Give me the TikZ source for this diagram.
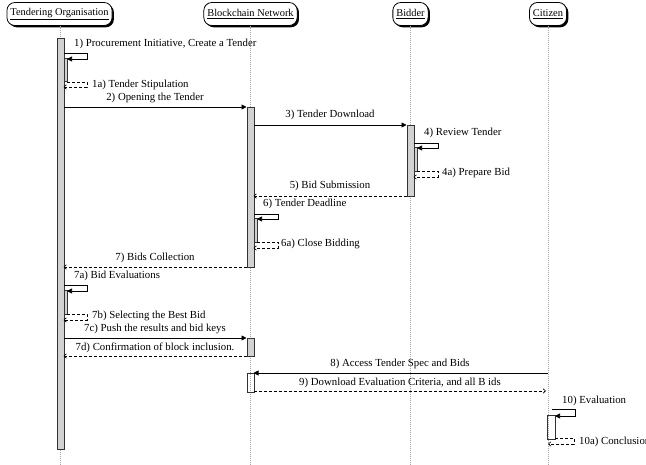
\documentclass[tikz,border=0pt]{standalone}
\usepackage{fontspec}
\setmainfont{Liberation Serif}
\usetikzlibrary{arrows.meta,shadows}
\begin{document}
\begin{tikzpicture}[x=1pt,y=-1pt,
  every node/.style={font=\fontsize{10.8}{13}\selectfont},
  actor/.style={draw=black,line width=0.8pt,rounded corners=8pt,fill=white,minimum height=23pt,inner xsep=3.5pt,
    font=\fontsize{10.4}{12}\selectfont,
    drop shadow={shadow xshift=1.8pt,shadow yshift=-1.8pt,fill=black,opacity=1}},
  life/.style={draw=gray!70,line width=0.5pt,dash pattern=on 1pt off 1pt},
  bar/.style={draw=black!80,line width=0.6pt,fill=gray!35,inner sep=0pt,anchor=north west},
  wbar/.style={draw=black!80,line width=0.6pt,fill=none,inner sep=0pt,anchor=north west},
  msg/.style={draw=black,line width=0.7pt,-{Triangle[length=5pt,width=5pt]}},
  ret/.style={draw=black,line width=0.6pt,dash pattern=on 3pt off 2pt,-{Straight Barb[length=2.5pt,width=4.5pt]}},
  lbl/.style={inner sep=0pt},
  lblw/.style={inner sep=0pt,anchor=west}]
\useasboundingbox (0,0) rectangle (646,465);
% actors
\node[actor] (to) at (59.5,14) {\underline{Tendering Organisation}};
\node[actor] (bn) at (250.5,14) {\underline{Blockchain Network}};
\node[actor] (bd) at (410.5,14) {\underline{Bidder}};
\node[actor] (ci) at (548,14) {\underline{Citizen}};
\coordinate (toE) at (60,465);
\coordinate (bnE) at (250.5,465);
\coordinate (bdE) at (410.5,465);
\coordinate (ciE) at (548,465);
\draw[life] (to.south -| toE) -- (toE);
\draw[life] (bn.south) -- (bnE);
\draw[life] (bd.south) -- (bdE);
\draw[life] (ci.south) -- (ciE);
% activation bars
\node[bar,minimum width=7pt,minimum height=411pt] (b1) at (56.5,38) {};
\node[bar,minimum width=7pt,minimum height=160pt] (b2) at (246.5,107) {};
\node[bar,minimum width=7pt,minimum height=71pt] (b3) at (406.5,125) {};
\node[bar,minimum width=7pt,minimum height=18pt] (b7) at (246.5,338) {};
\node[wbar,minimum width=7pt,minimum height=19pt] (b8) at (246.5,373) {};
\node[bar,minimum width=3.5pt,minimum height=23pt] (n1) at (63.5,58) {};
\node[bar,minimum width=3.5pt,minimum height=24pt] (n4) at (413.5,147) {};
\node[bar,minimum width=3.5pt,minimum height=24pt] (n6) at (253.5,218) {};
\node[bar,minimum width=3.5pt,minimum height=24pt] (n7) at (63.5,290) {};
\node[wbar,minimum width=8pt,minimum height=24pt] (n10) at (547,415) {};
% 1) self call
\node[lblw] (l1) at (74,44) {1) Procurement Initiative, Create a Tender};
\coordinate (c1s) at (63.5,53);
\coordinate (c1e) at (67,59);
\draw[msg] (c1s) -- ++(23.5,0) |- (c1e);
\coordinate (r1s) at (67,82);
\coordinate (r1e) at (63.5,87);
\draw[ret] (r1s) -- ++(20,0) |- (r1e);
\node[lblw] (l1a) at (92,85) {1a) Tender Stipulation};
% 2)
\node[lbl] (l2) at (155,98) {2) Opening the Tender};
\coordinate (m2s) at (63.5,107);
\coordinate (m2e) at (246.5,107);
\draw[msg] (m2s) -- (m2e);
% 3)
\node[lbl] (l3) at (330,115) {3) Tender Download};
\coordinate (m3s) at (253.5,125);
\coordinate (m3e) at (406.5,125);
\draw[msg] (m3s) -- (m3e);
% 4)
\node[lblw] (l4) at (424,133) {4) Review Tender};
\coordinate (c4s) at (413.5,143);
\coordinate (c4e) at (417,148);
\draw[msg] (c4s) -- ++(24.5,0) |- (c4e);
\coordinate (r4s) at (417,171);
\coordinate (r4e) at (413.5,177);
\draw[ret] (r4s) -- ++(21,0) |- (r4e);
\node[lblw] (l4a) at (442,173) {4a) Prepare Bid};
% 5)
\node[lbl] (l5) at (330,186) {5) Bid Submission};
\coordinate (m5s) at (406.5,196);
\coordinate (m5e) at (253.5,196);
\draw[ret] (m5s) -- (m5e);
% 6)
\node[lblw] (l6) at (263,204) {6) Tender Deadline};
\coordinate (c6s) at (253.5,214);
\coordinate (c6e) at (257,219);
\draw[msg] (c6s) -- ++(24.5,0) |- (c6e);
\coordinate (r6s) at (257,242);
\coordinate (r6e) at (253.5,248);
\draw[ret] (r6s) -- ++(21,0) |- (r6e);
\node[lblw] (l6a) at (281,244) {6a) Close Bidding};
% 7)
\node[lbl] (l7) at (155,258) {7) Bids Collection};
\coordinate (m7s) at (246.5,267);
\coordinate (m7e) at (63.5,267);
\draw[ret] (m7s) -- (m7e);
% 7a)
\node[lblw] (l7a) at (74,276) {7a) Bid Evaluations};
\coordinate (c7s) at (63.5,285);
\coordinate (c7e) at (67,291);
\draw[msg] (c7s) -- ++(23.5,0) |- (c7e);
\coordinate (r7s) at (67,314);
\coordinate (r7e) at (63.5,320);
\draw[ret] (r7s) -- ++(20,0) |- (r7e);
\node[lblw] (l7b) at (92,316) {7b) Selecting the Best Bid};
% 7c)
\node[lbl] (l7c) at (155,329) {7c) Push the results and bid keys};
\coordinate (m7cs) at (63.5,338);
\coordinate (m7ce) at (246.5,338);
\draw[msg] (m7cs) -- (m7ce);
% 7d)
\node[lbl] (l7d) at (155,348) {7d) Confirmation of block inclusion.};
\coordinate (m7ds) at (246.5,356);
\coordinate (m7de) at (63.5,356);
\draw[ret] (m7ds) -- (m7de);
% 8)
\node[lbl] (l8) at (400,364) {8) Access Tender Spec and Bids};
\coordinate (m8s) at (548,373);
\coordinate (m8e) at (253.5,373);
\draw[msg] (m8s) -- (m8e);
% 9)
\node[lbl] (l9) at (400,383) {9) Download Evaluation Criteria, and all B ids};
\coordinate (m9s) at (253.5,391);
\coordinate (m9e) at (546,391);
\draw[ret] (m9s) -- (m9e);
% 10)
\node[lblw] (l10) at (562,401) {10) Evaluation};
\coordinate (c10s) at (552,409);
\coordinate (c10e) at (555,416);
\draw[msg] (c10s) -- ++(23,0) |- (c10e);
\coordinate (r10s) at (555,438);
\coordinate (r10e) at (548,444);
\draw[ret] (r10s) -- ++(19,0) |- (r10e);
\node[lblw] (l10a) at (579,442) {10a) Conclusion};
\end{tikzpicture}
\end{document}
